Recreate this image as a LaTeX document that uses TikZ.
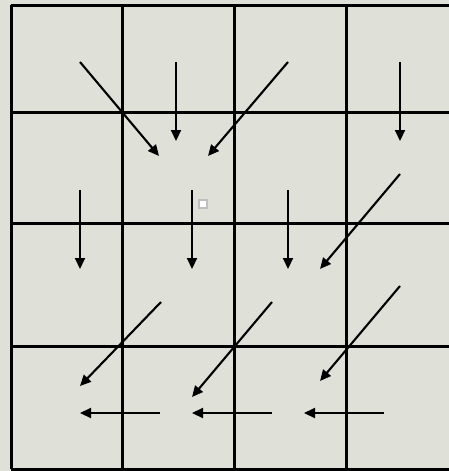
\documentclass[tikz,border=0pt]{standalone}
\usetikzlibrary{arrows.meta}
\definecolor{bgc}{RGB}{223,225,217}
\tikzset{
  gridline/.style={line width=3pt, black},
  flow/.style={line width=2.1pt, black, -{Triangle[length=11pt,width=10pt]}},
}
\begin{document}
\begin{tikzpicture}[x=1pt,y=-1pt]
\fill[bgc] (0,0) rectangle (449,471);
\useasboundingbox (0,0) rectangle (449,471);
% grid
\foreach \x in {11,122,234,346} \draw[gridline] (\x,5) -- (\x,469);
\foreach \y in {5,112,223,346,469} \draw[gridline] (11,\y) -- (449,\y);
% small marker
\node[draw=gray!50, fill=white, line width=1.5pt, minimum size=8pt, inner sep=0pt] (mk) at (203,204) {};
% coordinates
\coordinate (a1) at (80,62);   \coordinate (b1) at (159,156);
\coordinate (a2) at (176,62);  \coordinate (b2) at (176,141);
\coordinate (a3) at (288,62);  \coordinate (b3) at (208,156);
\coordinate (a4) at (400,62);  \coordinate (b4) at (400,141);
\coordinate (a5) at (80,190);  \coordinate (b5) at (80,269);
\coordinate (a6) at (192,190); \coordinate (b6) at (192,269);
\coordinate (a7) at (288,190); \coordinate (b7) at (288,269);
\coordinate (a8) at (400,174); \coordinate (b8) at (320,269);
\coordinate (a9) at (161,302); \coordinate (b9) at (80,386);
\coordinate (a10) at (272,302); \coordinate (b10) at (192,397);
\coordinate (a11) at (400,286); \coordinate (b11) at (320,381);
\coordinate (a12) at (160,413); \coordinate (b12) at (80,413);
\coordinate (a13) at (272,413); \coordinate (b13) at (192,413);
\coordinate (a14) at (384,413); \coordinate (b14) at (304,413);
\foreach \i in {1,...,14} \draw[flow] (a\i) -- (b\i);
\end{tikzpicture}
\end{document}
